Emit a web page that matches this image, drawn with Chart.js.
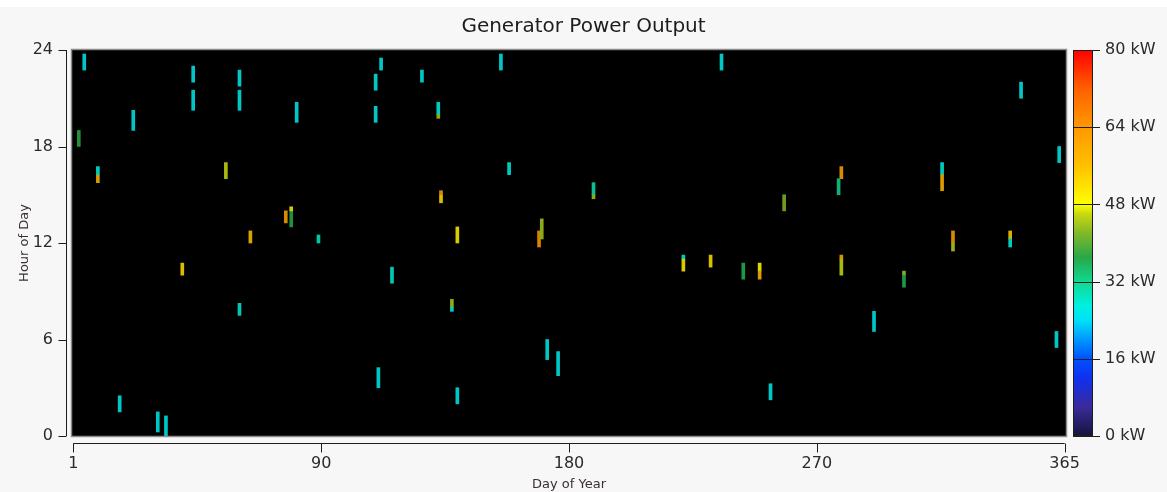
<!DOCTYPE html>
<html><head><meta charset="utf-8">
<script src="https://cdn.jsdelivr.net/npm/chart.js@4/dist/chart.umd.min.js"></script>
<style>
html,body{margin:0;padding:0;background:#f7f7f7;}
#wrap{width:1167px;height:492px;position:relative;background:#f7f7f7;border-top:0;}
#strip{position:absolute;left:0;top:0;width:1167px;height:7px;background:#ffffff;}
canvas{position:absolute;left:0;top:0;}
</style></head><body>
<div id="wrap"><div id="strip"></div><canvas id="c" width="1167" height="492"></canvas></div>
<script>
// ---- data ----
const days       = [5,45,45,62,62,23,83,3,10,10,57,79,81,81,66,91,114,112,112,129,135,135,158,161,136,136,142,172,173,239,192,192,262,349,363,283,282,320,320,324,324,345,345,41,62,18,32,35,118,140,140,113,142,175,179,225,225,235,247,253,253,257,283,283,306,306,295,362];
const startHours = [22.75,22,20.25,21.75,20.25,19,19.5,18,15.75,16.25,16,13.25,13,14,12,12,22.75,21.5,19.5,22,20,19.75,22.75,16.25,14.5,15,12,11.75,12.25,22.75,15,14.75,14,21,17,16,15,16.25,15.25,12,11.5,12.25,11.75,10,7.5,1.5,0.25,0,9.5,8,7.75,3,2,4.75,3.75,11,10.25,10.5,9.75,10.25,9.75,2.25,11,10,10,9.25,6.5,5.5];
const endHours   = [23.75,23,21.5,22.75,21.5,20.25,20.75,19,16.25,16.75,17,14,14,14.25,12.75,12.5,23.5,22.5,20.5,22.75,20.75,20,23.75,17,15,15.25,13,12.75,13.5,23.75,15.75,15,15,22,18,16.75,16,17,16.25,12.75,12,12.75,12.25,10.75,8.25,2.5,1.5,1.25,10.5,8.5,8,4.25,3,6,5.25,11.25,11,11.25,10.75,10.75,10.25,3.25,11.25,11,10.25,10,7.75,6.5];
const powerKW    = [26,26,26,26,26,26,26,37,58,27,46,62,37,50,56,29,26,26,26,26,27,44,26,27,52,62,50,64,44,26,30,44,42,26,26,62,33,27,58,62,45,54,27,52,28,26,26,26,28,44,27,26,26,26,26,27,50,52,36,48,58,26,60,46,44,36,26,26];

const dayTicks = [1, 92, 183, 274, 365];
const dayTickLabels = ['1', '90', '180', '270', '365'];
const hourTicks = [0, 6, 12, 18, 24];
const kwTicks = [0, 16, 32, 48, 64, 80];
const kwLabelUnit = ' kW';

// colour scale (kW -> colour)
const colorStops = [
  [0, '#14143c'], [6, '#3a2a9a'], [12, '#1030f0'], [16, '#0050ff'], [20, '#0098ff'],
  [24, '#00e0f8'], [27, '#00f0e0'], [32, '#10d890'], [37, '#28a848'], [42, '#80b828'],
  [46, '#c8d810'], [48, '#ffff00'], [56, '#ffc000'], [64, '#ff9800'], [72, '#ff6000'], [80, '#ff0000']
];
const KW_MAX = 80;
const MARK_SHADE = 0.85;

function hex2rgb(h){return [parseInt(h.substr(1,2),16),parseInt(h.substr(3,2),16),parseInt(h.substr(5,2),16)];}
function rgbFor(v){
  if (v <= colorStops[0][0]) return hex2rgb(colorStops[0][1]);
  for (let i = 1; i < colorStops.length; i++) {
    const [v1, c1] = colorStops[i];
    const [v0, c0] = colorStops[i-1];
    if (v <= v1) {
      const t = (v - v0) / (v1 - v0);
      const a = hex2rgb(c0), b = hex2rgb(c1);
      return a.map((x, k) => x + (b[k] - x) * t);
    }
  }
  return hex2rgb(colorStops[colorStops.length-1][1]);
}
function markColor(v){
  return 'rgb(' + rgbFor(v).map(x => Math.round(x * MARK_SHADE)).join(',') + ')';
}

const FONT = 'DejaVu Sans';
const TXT = '#2a2a2a';

const plotBg = {
  id: 'plotBg',
  beforeDatasetsDraw(chart) {
    const {ctx, chartArea: a} = chart;
    ctx.save();
    ctx.fillStyle = '#000';
    ctx.fillRect(a.left, a.top, a.right - a.left, a.bottom - a.top);
    ctx.restore();
  },
  afterDraw(chart) {
    const {ctx, chartArea: a, scales} = chart;
    ctx.save();
    // plot frame
    ctx.strokeStyle = '#8a8a8a';
    ctx.lineWidth = 1.5;
    ctx.strokeRect(a.left - 0.5, a.top - 0.5, a.right - a.left + 1, a.bottom - a.top + 1);

    ctx.strokeStyle = '#1e1e1e';
    ctx.lineWidth = 1;
    // detached y axis
    const ys = scales.y;
    const yx = a.left - 5.5;
    ctx.beginPath();
    ctx.moveTo(yx, ys.getPixelForValue(hourTicks[0]));
    ctx.lineTo(yx, ys.getPixelForValue(hourTicks[hourTicks.length-1]));
    hourTicks.forEach(h => {
      const py = Math.round(ys.getPixelForValue(h)) + 0.5;
      ctx.moveTo(yx, py); ctx.lineTo(yx - 8, py);
    });
    ctx.stroke();
    // detached x axis
    const xs = scales.x;
    const xy = a.bottom + 7.5;
    ctx.beginPath();
    ctx.moveTo(xs.getPixelForValue(dayTicks[0]), xy);
    ctx.lineTo(xs.getPixelForValue(dayTicks[dayTicks.length-1]), xy);
    dayTicks.forEach(d => {
      const px = Math.round(xs.getPixelForValue(d)) + 0.5;
      ctx.moveTo(px, xy); ctx.lineTo(px, xy + 9);
    });
    ctx.stroke();

    // colour bar
    const ks = scales.kw;
    const bx = ks.left + 7, bw = 20;
    const top = ks.getPixelForValue(KW_MAX), bot = ks.getPixelForValue(0);
    const g = ctx.createLinearGradient(0, bot, 0, top);
    colorStops.forEach(([v, c]) => g.addColorStop(v / KW_MAX, c));
    ctx.fillStyle = g;
    ctx.fillRect(bx, top, bw, bot - top);
    ctx.strokeStyle = '#1e1e1e';
    ctx.strokeRect(bx + 0.5, top + 0.5, bw - 1, bot - top - 1);
    ctx.beginPath();
    kwTicks.forEach(v => {
      const py = Math.round(ks.getPixelForValue(v)) + 0.5;
      ctx.moveTo(bx, py); ctx.lineTo(bx + bw + 7, py);
    });
    ctx.stroke();
    ctx.restore();
  }
};

const tickFont = {family: FONT, size: 16};
const titleFont = {family: FONT, size: 13};

new Chart(document.getElementById('c'), {
  type: 'bar',
  data: {
    datasets: [{
      data: days.map((d, i) => ({x: d, y: [startHours[i], endHours[i]]})),
      backgroundColor: c => markColor(powerKW[c.dataIndex]),
      borderWidth: 0,
      barThickness: 3,
      xAxisID: 'x',
      yAxisID: 'y'
    }]
  },
  options: {
    responsive: false,
    animation: false,
    layout: {padding: 0},
    plugins: {
      legend: {display: false},
      tooltip: {enabled: false},
      title: {
        display: true,
        text: 'Generator Power Output',
        font: {family: FONT, size: 20, weight: 'normal'},
        color: '#1c1c1c',
        padding: {top: 15, bottom: 11}
      }
    },
    scales: {
      x: {
        type: 'linear', min: 0.5, max: 365.5, position: 'bottom', offset: false,
        grid: {display: false, drawTicks: false, offset: false},
        border: {display: false},
        afterBuildTicks: s => { s.ticks = dayTicks.map(v => ({value: v})); },
        ticks: {autoSkip: false, maxRotation: 0, padding: 18, font: tickFont, color: TXT,
                callback: (v, i) => dayTickLabels[i]},
        title: {display: true, text: 'Day of Year', font: titleFont, color: '#3a3030', padding: {top: 0, bottom: 0}},
        afterFit: s => { s.height = 56; }
      },
      y: {
        type: 'linear', min: 0, max: 24, position: 'left',
        grid: {display: false, drawTicks: false},
        border: {display: false},
        afterBuildTicks: s => { s.ticks = hourTicks.map(v => ({value: v})); },
        ticks: {autoSkip: false, padding: 19, font: tickFont, color: TXT},
        title: {display: true, text: 'Hour of Day', font: titleFont, color: '#3a3030', padding: {top: 17, bottom: 0}},
        afterFit: s => { s.width = 72; }
      },
      kw: {
        type: 'linear', min: 0, max: KW_MAX, position: 'right',
        grid: {display: false, drawTicks: false},
        border: {display: false},
        afterBuildTicks: s => { s.ticks = kwTicks.map(v => ({value: v})); },
        ticks: {autoSkip: false, padding: 39, font: tickFont, color: TXT,
                callback: v => v + kwLabelUnit},
        afterFit: s => { s.width = 101; }
      }
    }
  },
  plugins: [plotBg]
});
</script>
</body></html>
